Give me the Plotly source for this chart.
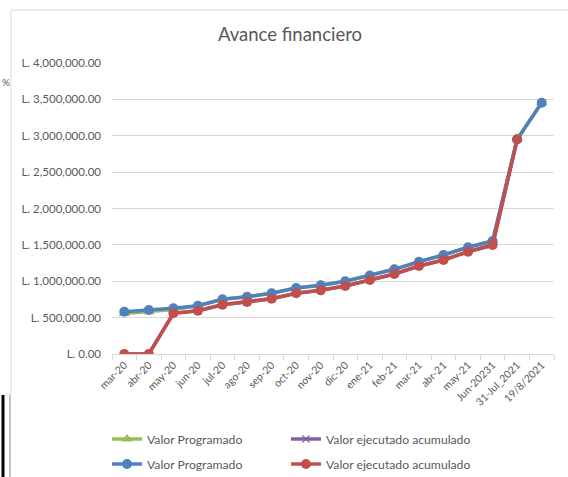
import plotly.graph_objects as go

categories = ["mar-20", "abr-20", "may-20", "jun-20", "jul-20", "ago-20", "sep-20", "oct-20",
              "nov-20", "dic-20", "ene-21", "feb-21", "mar-21", "abr-21", "may-21",
              "Jun-20231", "31-Jul_2021", "19/8/2021"]

programado_azul = [581000, 604000, 628000, 664000, 752000, 788000, 834000, 907000, 945000,
                   1000000, 1080000, 1164000, 1269000, 1361000, 1467000, 1553000, 2951000, 3454000]
ejecutado_rojo = [0, 0, 559000, 595000, 677000, 714000, 760000, 834000, 875000,
                  935000, 1017000, 1100000, 1210000, 1292000, 1406000, 1498000, 2951000, None]
programado_verde = [557000, 581000, 612000, 664000, 752000, 788000, 834000, 907000, 945000,
                    1000000, 1080000, 1164000, 1269000, 1361000, 1467000, 1553000, 2951000, 3454000]
ejecutado_morado = [0, 0, 559000, 595000, 677000, 714000, 760000, 834000, 875000,
                    935000, 1017000, 1100000, 1210000, 1292000, 1406000, 1498000, 2951000, None]

FONT = "Lato"
GREY = "#595959"

fig = go.Figure()
fig.add_trace(go.Scatter(x=categories, y=programado_verde, name="Valor Programado",
                         mode="lines+markers", line=dict(color="#9BBB59", width=3.5),
                         marker=dict(symbol="triangle-up", size=10, color="#9BBB59"),
                         legend="legend", showlegend=True))
fig.add_trace(go.Scatter(x=categories, y=ejecutado_morado, name="Valor ejecutado acumulado",
                         mode="lines+markers", line=dict(color="#8064A2", width=3.5),
                         marker=dict(symbol="x-thin", size=7, color="#8064A2",
                                     line=dict(color="#8064A2", width=1.2)),
                         legend="legend2", showlegend=True))
fig.add_trace(go.Scatter(x=categories, y=programado_azul, name="Valor Programado",
                         mode="lines+markers", line=dict(color="#4F81BD", width=3.5),
                         marker=dict(symbol="circle", size=10, color="#4F81BD"),
                         legend="legend3", showlegend=True))
fig.add_trace(go.Scatter(x=categories, y=ejecutado_rojo, name="Valor ejecutado acumulado",
                         mode="lines+markers", line=dict(color="#C0504D", width=3.5),
                         marker=dict(symbol="circle", size=10, color="#C0504D"),
                         legend="legend4", showlegend=True))

L, R, T, B = 112, 14, 63, 123
W, H = 568, 477
pw, ph = W - L - R, H - T - B

def px(x):
    return (x - L) / pw

def py(y):
    return (H - B - y) / ph

shapes = [
    dict(type="line", xref="paper", yref="paper", x0=px(11), x1=px(11), y0=py(10), y1=py(394),
         line=dict(color="#d9d9d9", width=1)),
    dict(type="line", xref="paper", yref="paper", x0=px(11), x1=px(570), y0=py(10), y1=py(10),
         line=dict(color="#d9d9d9", width=1)),
    dict(type="line", xref="paper", yref="paper", x0=px(0), x1=px(11), y0=py(394), y1=py(394),
         line=dict(color="#e6e6e6", width=1)),
    dict(type="line", xref="paper", yref="paper", x0=px(3), x1=px(3), y0=py(395), y1=py(480),
         line=dict(color="#000000", width=3)),
    dict(type="line", xref="paper", yref="paper", x0=px(10), x1=px(10), y0=py(395), y1=py(480),
         line=dict(color="#9a9a9a", width=1.2)),
]

legend_common = dict(orientation="h", xanchor="left", yanchor="middle",
                     font=dict(size=12.2, color=GREY, family=FONT),
                     bgcolor="rgba(0,0,0,0)")

fig.update_layout(
    width=W, height=H,
    showlegend=True,
    margin=dict(l=L, r=R, t=T, b=B, autoexpand=False),
    paper_bgcolor="white", plot_bgcolor="white",
    font=dict(family=FONT, color=GREY, size=11),
    title=dict(text="Avance financiero", x=290 / W, xanchor="center", y=1 - 35 / H,
               yanchor="middle", font=dict(size=18.5, color=GREY, family=FONT)),
    xaxis=dict(type="category", tickangle=-45, tickfont=dict(size=10.5, color=GREY),
               showgrid=False, showline=True, linecolor="#d9d9d9", linewidth=1,
               ticks="outside", tickson="boundaries", ticklen=5, tickcolor="#d9d9d9",
               range=[-0.5, len(categories) - 0.5], zeroline=False, automargin=False),
    yaxis=dict(range=[0, 4000000], dtick=500000, tickprefix="L. ", tickformat=",.2f",
               showgrid=True, gridcolor="#d9d9d9", gridwidth=1, zeroline=False,
               tickfont=dict(size=11.5, color=GREY), ticks="", ticklabelstandoff=10,
               automargin=False),
    legend=dict(x=px(107), y=py(439), **legend_common),
    legend2=dict(x=px(286), y=py(439), **legend_common),
    legend3=dict(x=px(107), y=py(464), **legend_common),
    legend4=dict(x=px(286), y=py(464), **legend_common),
    shapes=shapes,
    annotations=[dict(text="%", xref="paper", yref="paper", x=px(0), y=py(82),
                      xanchor="left", yanchor="middle", showarrow=False,
                      font=dict(size=10, color=GREY, family=FONT))],
)

fig.write_html("out.html", config={"displayModeBar": False},
               post_script="document.body.style.margin='0';document.body.style.padding='0';")
